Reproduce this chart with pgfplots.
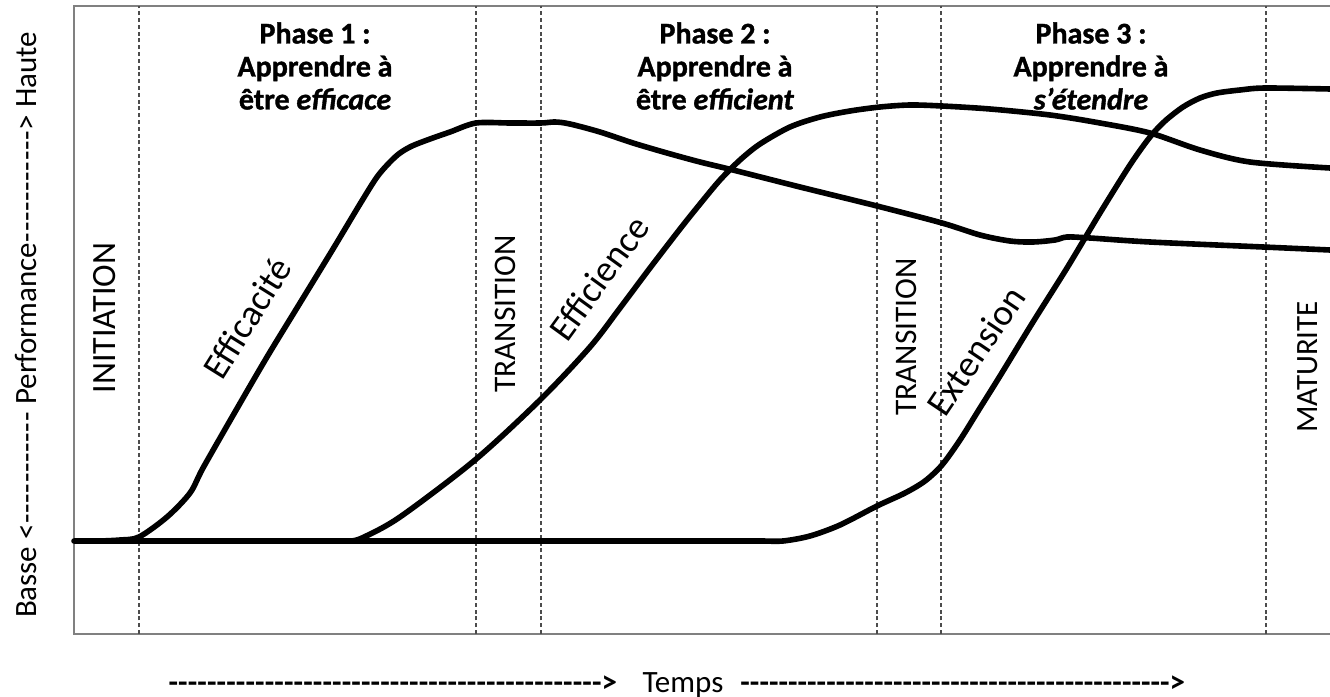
\documentclass[border=0pt]{standalone}
\usepackage{pgfplots}
\pgfplotsset{compat=1.18}
\usepackage{fontspec}
\setmainfont{Carlito}
\newfontfamily\phasefont{Carlito}[UprightFont={* Bold}, ItalicFont={* Bold Italic}, FakeBold=1.2]
\begin{document}
\begin{tikzpicture}
\useasboundingbox (-37pt,-31.5pt) rectangle (628pt,317pt);
\begin{axis}[
  at={(0,0)}, anchor=south west,
  scale only axis, width=628pt, height=314pt,
  xmin=74, xmax=1330, ymin=0, ymax=628,
  axis lines=none, ticks=none, clip=false]
% frame (no right side)
\draw[gray, line width=1pt] (axis cs:1330,628) -- (axis cs:74,628) -- (axis cs:74,0) -- (axis cs:1330,0);
% phase separators
\foreach \xx in {139,476,541,877,941,1266}{
  \edef\temp{\noexpand\addplot[draw=black!70, line width=0.75pt, dash pattern=on 2pt off 1.4pt] coordinates {(\xx,0) (\xx,628)};}
  \temp
}
% Extension (with flat baseline)
\addplot[black, line width=2.8pt, smooth, tension=0.5, line cap=round] coordinates {
 (74,93) (300,93) (550,93) (700,93) (760,93) (783,93) (810,98) (840,109) (877,128)
 (905,141) (925,153) (942,169) (960,194) (980,226) (1000,258) (1033,312) (1067,366)
 (1100,421) (1130,469) (1150,497) (1165,513) (1183,527) (1200,536) (1217,541)
 (1240,544) (1265,546) (1330,545)};
% Efficacite
\addplot[black, line width=2.8pt, smooth, tension=0.5, line cap=round] coordinates {
 (100,93) (120,94) (139,97) (167,117) (190,141) (203,166) (235,222) (267,277)
 (300,331) (333,385) (360,430) (377,457) (390,472) (400,481) (412,488) (430,495)
 (450,502) (476,511) (510,511) (541,511) (555,512) (570,510) (600,502) (633,491)
 (667,481) (700,472) (733,464) (800,447) (877,428) (942,411) (980,399) (1010,393)
 (1033,392) (1055,394) (1067,397) (1090,396) (1150,392) (1263,387) (1330,384)};
% Efficience
\addplot[black, line width=2.8pt, smooth, tension=0.5, line cap=round] coordinates {
 (350,93) (362,96) (400,117) (475,174) (540,234) (590,287) (620,326) (650,366)
 (680,405) (700,430) (720,454) (740,474) (760,490) (790,507) (820,517) (850,523)
 (880,527) (910,529) (942,528) (990,525) (1050,519) (1100,511) (1150,501)
 (1200,484) (1250,472) (1330,466)};
% phase titles
\node[align=center, inner sep=0pt, anchor=north, font=\phasefont\fontsize{15}{16.5}\selectfont] at (axis cs:315,612) {Phase 1 :\\Apprendre à\\être \textit{efficace}};
\node[align=center, inner sep=0pt, anchor=north, font=\phasefont\fontsize{15}{16.5}\selectfont] at (axis cs:715,612) {Phase 2 :\\Apprendre à\\être \textit{efficient}};
\node[align=center, inner sep=0pt, anchor=north, font=\phasefont\fontsize{15}{16.5}\selectfont] at (axis cs:1091,612) {Phase 3 :\\Apprendre à\\\textit{s’étendre}};
% stage labels
\node[rotate=90, inner sep=0pt, font=\fontsize{17}{20}\selectfont] at (axis cs:105,316) {INITIATION};
\node[rotate=90, inner sep=0pt, font=\fontsize{15.7}{19}\selectfont] at (axis cs:505,320) {TRANSITION};
\node[rotate=90, inner sep=0pt, font=\fontsize{15.7}{19}\selectfont] at (axis cs:906,297) {TRANSITION};
\node[rotate=90, inner sep=0pt, font=\fontsize{15.5}{19}\selectfont] at (axis cs:1308,267) {MATURITE};
% curve labels
\node[rotate=58, inner sep=0pt, font=\fontsize{18.5}{22}\selectfont] at (axis cs:247,316) {Efficacité};
\node[rotate=54, inner sep=0pt, font=\fontsize{18.5}{22}\selectfont] at (axis cs:599,356) {Efficience};
\node[rotate=56, inner sep=0pt, font=\fontsize{18.5}{22}\selectfont] at (axis cs:976,283) {Extension};
% axis label (vertical)
\node[rotate=90, inner sep=0pt, font=\fontsize{15.5}{18}\selectfont] at (axis cs:26,309)
  {\hbox to 293pt{Basse <\xleaders\hbox{-}\hfill\ Performance\xleaders\hbox{-}\hfill> Haute}};
% time axis label
\node[anchor=base west, inner sep=0pt, font=\bfseries\fontsize{15.5}{18}\selectfont] at (axis cs:168,-58)
  {\hbox to 224.5pt{\xleaders\hbox{-}\hfill>}};
\node[anchor=base, inner sep=0pt, font=\fontsize{15.5}{18}\selectfont] at (axis cs:683,-58) {Temps};
\node[anchor=base west, inner sep=0pt, font=\bfseries\fontsize{15.5}{18}\selectfont] at (axis cs:740,-58)
  {\hbox to 222.5pt{\xleaders\hbox{-}\hfill>}};
\end{axis}
\end{tikzpicture}
\end{document}
